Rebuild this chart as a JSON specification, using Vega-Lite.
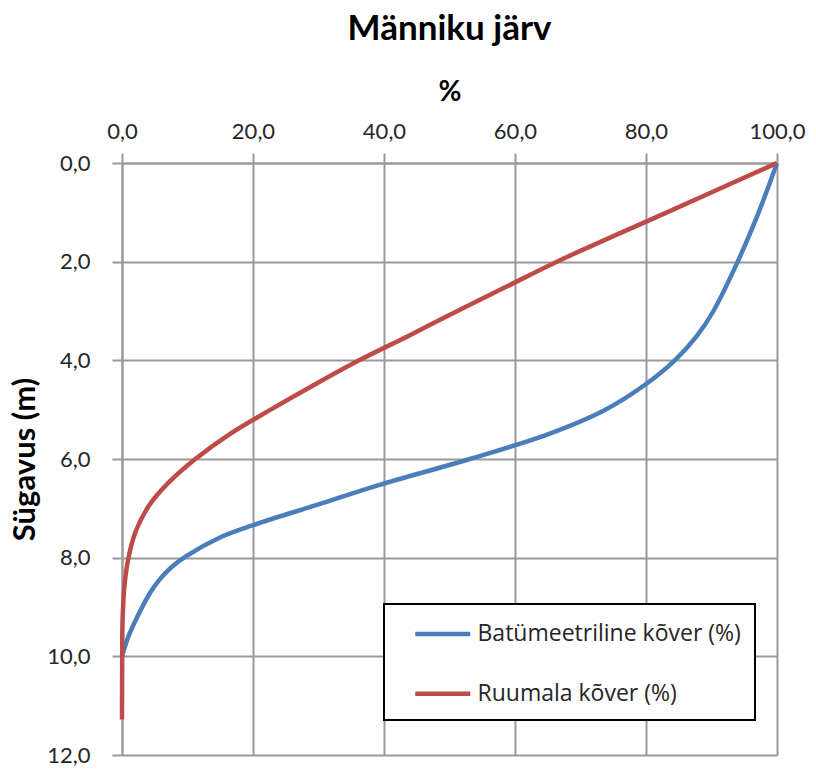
{
  "$schema": "https://vega.github.io/schema/vega-lite/v6.json",
  "width": 655,
  "height": 592,
  "autosize": {"type": "none"},
  "padding": {"left": 122, "top": 163, "right": 39, "bottom": 16},
  "background": "white",
  "title": {"text": "Männiku järv", "fontSize": 35, "font": "Lato", "fontWeight": "bold", "color": "#000000", "offset": 31, "anchor": "middle"},
  "data": {"values": [
    {"series": "Batümeetriline kõver (%)", "depth": 0, "pct": 100},
    {"series": "Batümeetriline kõver (%)", "depth": 1, "pct": 97.2},
    {"series": "Batümeetriline kõver (%)", "depth": 2, "pct": 94.0},
    {"series": "Batümeetriline kõver (%)", "depth": 3, "pct": 90.3},
    {"series": "Batümeetriline kõver (%)", "depth": 3.5, "pct": 87.8},
    {"series": "Batümeetriline kõver (%)", "depth": 4, "pct": 84.4},
    {"series": "Batümeetriline kõver (%)", "depth": 4.5, "pct": 79.8},
    {"series": "Batümeetriline kõver (%)", "depth": 5, "pct": 73.8},
    {"series": "Batümeetriline kõver (%)", "depth": 5.5, "pct": 65.0},
    {"series": "Batümeetriline kõver (%)", "depth": 6, "pct": 53.1},
    {"series": "Batümeetriline kõver (%)", "depth": 6.53, "pct": 39.2},
    {"series": "Batümeetriline kõver (%)", "depth": 6.92, "pct": 30.0},
    {"series": "Batümeetriline kõver (%)", "depth": 7.35, "pct": 19.8},
    {"series": "Batümeetriline kõver (%)", "depth": 7.6, "pct": 14.8},
    {"series": "Batümeetriline kõver (%)", "depth": 7.97, "pct": 9.8},
    {"series": "Batümeetriline kõver (%)", "depth": 8.2, "pct": 7.5},
    {"series": "Batümeetriline kõver (%)", "depth": 8.45, "pct": 5.7},
    {"series": "Batümeetriline kõver (%)", "depth": 8.71, "pct": 4.3},
    {"series": "Batümeetriline kõver (%)", "depth": 9.18, "pct": 2.4},
    {"series": "Batümeetriline kõver (%)", "depth": 9.59, "pct": 1.0},
    {"series": "Batümeetriline kõver (%)", "depth": 10, "pct": 0},
    {"series": "Ruumala kõver (%)", "depth": 0, "pct": 100},
    {"series": "Ruumala kõver (%)", "depth": 1, "pct": 83.2},
    {"series": "Ruumala kõver (%)", "depth": 2, "pct": 66.4},
    {"series": "Ruumala kõver (%)", "depth": 2.5, "pct": 58.8},
    {"series": "Ruumala kõver (%)", "depth": 3, "pct": 51.2},
    {"series": "Ruumala kõver (%)", "depth": 3.5, "pct": 43.8},
    {"series": "Ruumala kõver (%)", "depth": 4, "pct": 36.2},
    {"series": "Ruumala kõver (%)", "depth": 4.5, "pct": 29.3},
    {"series": "Ruumala kõver (%)", "depth": 5, "pct": 22.7},
    {"series": "Ruumala kõver (%)", "depth": 5.5, "pct": 16.4},
    {"series": "Ruumala kõver (%)", "depth": 6, "pct": 11.2},
    {"series": "Ruumala kõver (%)", "depth": 6.48, "pct": 7.1},
    {"series": "Ruumala kõver (%)", "depth": 6.95, "pct": 4.1},
    {"series": "Ruumala kõver (%)", "depth": 7.5, "pct": 2.0},
    {"series": "Ruumala kõver (%)", "depth": 8, "pct": 1.0},
    {"series": "Ruumala kõver (%)", "depth": 8.54, "pct": 0.4},
    {"series": "Ruumala kõver (%)", "depth": 9.2, "pct": 0.1},
    {"series": "Ruumala kõver (%)", "depth": 10, "pct": 0.03},
    {"series": "Ruumala kõver (%)", "depth": 11.28, "pct": 0}
  ]},
  "mark": {"type": "line", "interpolate": "catmull-rom", "strokeWidth": 4.5},
  "encoding": {
    "x": {
      "field": "pct", "type": "quantitative",
      "scale": {"domain": [0, 100], "nice": false, "zero": false},
      "axis": {"orient": "top", "title": "%", "values": [0, 20, 40, 60, 80, 100], "format": ".1f", "labelPadding": 10, "titlePadding": 14, "titleFontSize": 28, "labelFlush": false, "labelOverlap": false}
    },
    "y": {
      "field": "depth", "type": "quantitative",
      "scale": {"domain": [0, 12], "reverse": true, "nice": false},
      "axis": {"title": "Sügavus (m)", "values": [0, 2, 4, 6, 8, 10, 12], "format": ".1f", "labelPadding": 22, "titlePadding": 5, "titleFontSize": 31, "labelFlush": false, "labelOverlap": false}
    },
    "color": {
      "field": "series", "type": "nominal",
      "scale": {"domain": ["Batümeetriline kõver (%)", "Ruumala kõver (%)"], "range": ["#4A7EBB", "#BE4B48"]},
      "legend": {
        "orient": "none", "legendX": 262, "legendY": 441, "title": null,
        "strokeColor": "#000000", "padding": 14, "fillColor": "#ffffff",
        "labelFontSize": 23, "labelFont": "Open Sans", "labelColor": "#262626",
        "symbolType": "M-2,0H2", "symbolSize": 756, "symbolStrokeWidth": 4.5,
        "rowPadding": 31.75, "labelOffset": 18.75, "symbolOffset": 28.75, "labelLimit": 400
      }
    },
    "order": {"field": "depth", "type": "quantitative"}
  },
  "config": {
    "locale": {"number": {"decimal": ",", "thousands": " ", "grouping": [3], "currency": ["", ""]}},
    "view": {"stroke": null},
    "axis": {
      "labelFont": "Lato", "labelFontSize": 22, "labelColor": "#262626",
      "titleFont": "Lato", "titleFontWeight": "bold", "titleColor": "#000000",
      "domainColor": "#999999", "domainWidth": 2,
      "tickColor": "#999999", "tickWidth": 2, "tickSize": 10,
      "gridColor": "#999999", "gridWidth": 2, "gridOpacity": 1, "grid": true
    },
    "legend": {"strokeWidth": 2}
  }
}
